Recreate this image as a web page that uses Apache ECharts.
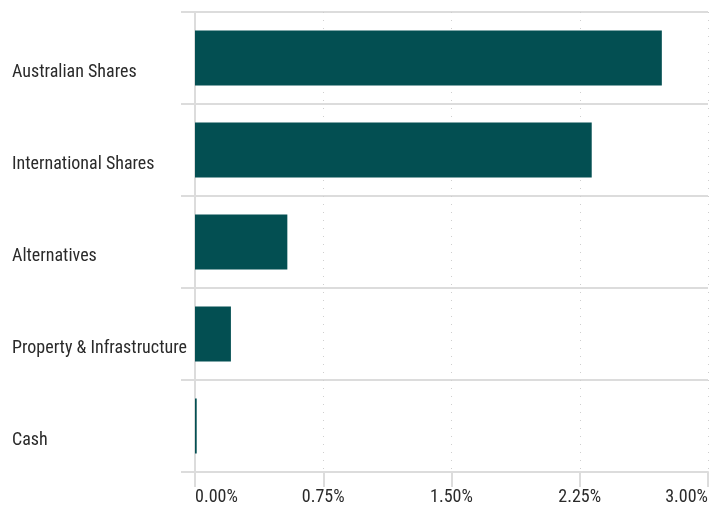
<!DOCTYPE html>
<html><head><meta charset="utf-8">
<script src="https://cdn.jsdelivr.net/npm/echarts@6/dist/echarts.min.js"></script>
<style>html,body{margin:0;padding:0;background:#fff}#c{width:711px;height:506px}</style>
</head><body><div id="c"></div>
<script>
const categories = ['Australian Shares','International Shares','Alternatives','Property & Infrastructure','Cash'];
const values = [2.73, 2.32, 0.54, 0.21, 0.01];
const xTicks = {min: 0, max: 3, interval: 0.75};
const FONT = "'Roboto Condensed','Liberation Sans Narrow','Arial Narrow','DejaVu Sans Condensed',sans-serif";
const gray = '#dcdcdc';
const chart = echarts.init(document.getElementById('c'), null, {renderer:'canvas'});
chart.setOption({
  animation: false,
  grid: {left: 195, right: 2, top: 12, bottom: 34, containLabel: false},
  xAxis: {
    type: 'value', min: xTicks.min, max: xTicks.max, interval: xTicks.interval,
    axisLine: {show: true, lineStyle: {color: gray, width: 2}},
    axisTick: {show: true, length: 15, lineStyle: {color: gray, width: 2}},
    splitLine: {show: true, lineStyle: {color: '#cfcfcf', width: 1, type: [1, 7]}},
    axisLabel: {
      formatter: v => v.toFixed(2) + '%', color: '#2a2a2a', fontFamily: FONT, fontSize: 18, margin: 16,
      alignMinLabel: 'left', alignMaxLabel: 'right'
    }
  },
  yAxis: {
    type: 'category', data: categories, inverse: true,
    axisLine: {show: true, lineStyle: {color: gray, width: 2}},
    axisTick: {show: true, length: 14, interval: 0, lineStyle: {color: gray, width: 2}},
    splitLine: {show: true, interval: 0, lineStyle: {color: gray, width: 2}},
    axisLabel: {
      align: 'left', margin: 183, color: '#2a2a2a', fontFamily: FONT, fontSize: 18,
      verticalAlign: 'top', lineHeight: 28
    }
  },
  series: [{
    type: 'bar', data: values, barWidth: '60%',
    itemStyle: {color: '#034f52'}
  }]
});
</script></body></html>
